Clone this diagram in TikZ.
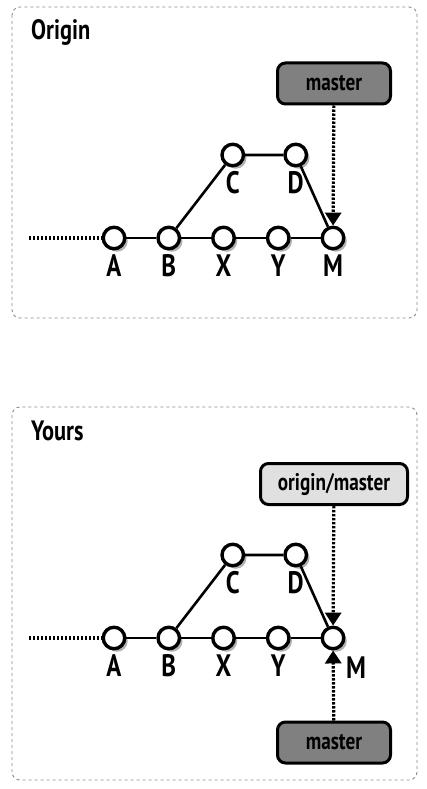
\documentclass[tikz,border=0pt]{standalone}
\usepackage{fontspec}
\setmainfont{PT Sans}[FakeStretch=0.8]
\usetikzlibrary{positioning,arrows.meta,shadows}

\tikzset{
  panel/.style={draw=black!45, dashed, line width=0.9pt, rounded corners=8pt},
  paneltitle/.style={anchor=west, inner sep=0pt, font=\bfseries\fontsize{28}{28}\selectfont},
  commit/.style={circle, draw, line width=3.4pt, fill=white, minimum size=21.5pt, inner sep=0pt,
    drop shadow={shadow xshift=3pt, shadow yshift=-3pt, opacity=0.3, fill=black}},
  commitlabel/.style={label distance=3pt, inner sep=1pt, font=\bfseries\fontsize{31}{31}\selectfont},
  parent/.style={line width=2.6pt},
  tail/.style={line width=3.2pt, dash pattern=on 2.4pt off 1.6pt},
  ref/.style={draw, line width=3pt, rounded corners=8pt, minimum width=113pt, minimum height=41pt,
    font=\bfseries\fontsize{24}{24}\selectfont},
  localref/.style={ref, fill=black!50},
  remoteref/.style={ref, fill=black!12, minimum width=147pt},
  refarrow/.style={line width=3.2pt, dash pattern=on 2.4pt off 1.6pt, -{Triangle[width=16pt,length=13pt]}},
}

\begin{document}
\begin{tikzpicture}[x=1pt, y=-1pt, node distance=54.75pt, on grid]
\useasboundingbox (0,0) rectangle (427,789);

% Origin
\draw[panel] (12,7) rectangle (417,318);
\node[paneltitle] (otitle) at (31,32) {Origin};
\node[commit, label={[commitlabel]below:A}] (oA) at (114,238) {};
\node[commit, right=of oA, label={[commitlabel]below:B}] (oB) {};
\node[commit, right=of oB, label={[commitlabel]below:X}] (oX) {};
\node[commit, right=of oX, label={[commitlabel]below:Y}] (oY) {};
\node[commit, right=of oY, label={[commitlabel]below:M}] (oM) {};
\node[commit, above right=83pt and 64pt of oB, label={[commitlabel]below:C}] (oC) {};
\node[commit, right=63pt of oC, label={[commitlabel]below:D}] (oD) {};
\coordinate (otail) at (29,238);
\node[localref] (omaster) at (334,83.5) {master};
\draw[tail] (otail) -- (oA);
\draw[parent] (oA) -- (oB) -- (oX) -- (oY) -- (oM);
\draw[parent] (oB) -- (oC) -- (oD) -- (oM);
\draw[refarrow] (omaster) -- (oM);

% Yours
\draw[panel] (12,407) rectangle (417,780);
\node[paneltitle] (ytitle) at (31,431) {Yours};
\node[commit, label={[commitlabel]below:A}] (yA) at (114,638) {};
\node[commit, right=of yA, label={[commitlabel]below:B}] (yB) {};
\node[commit, right=of yB, label={[commitlabel]below:X}] (yX) {};
\node[commit, right=of yX, label={[commitlabel]below:Y}] (yY) {};
\node[commit, right=of yY, label={[commitlabel, label distance=0pt, xshift=3pt, yshift=-9pt]-45:M}] (yM) {};
\node[commit, above right=83pt and 64pt of yB, label={[commitlabel]below:C}] (yC) {};
\node[commit, right=63pt of yC, label={[commitlabel]below:D}] (yD) {};
\coordinate (ytail) at (29,638);
\node[remoteref] (yorigin) at (334,484) {origin/master};
\node[localref] (ymaster) at (334,742.5) {master};
\draw[tail] (ytail) -- (yA);
\draw[parent] (yA) -- (yB) -- (yX) -- (yY) -- (yM);
\draw[parent] (yB) -- (yC) -- (yD) -- (yM);
\draw[refarrow] (yorigin) -- (yM);
\draw[refarrow] (ymaster) -- (yM);
\end{tikzpicture}
\end{document}
